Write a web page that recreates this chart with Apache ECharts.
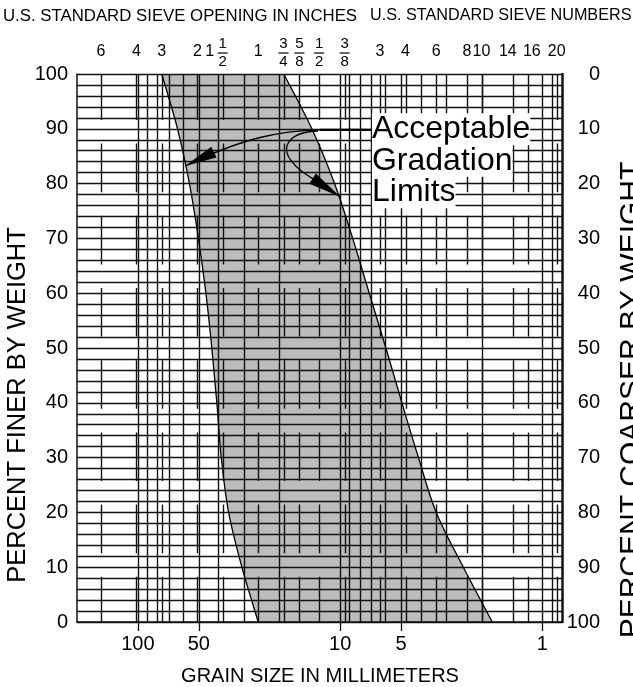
<!DOCTYPE html>
<html>
<head>
<meta charset="utf-8">
<title>Acceptable Gradation Limits</title>
<script src="https://cdn.jsdelivr.net/npm/echarts@6/dist/echarts.min.js"></script>
<style>
  html, body { margin: 0; padding: 0; background: #fff; }
  #chart { width: 633px; height: 687px; }
</style>
</head>
<body>
<div id="chart"></div>
<script>
// 级配曲线图
const FONT = '"Liberation Sans", Arial, Helvetica, sans-serif'
const INK = '#111'

// percent finer by weight, shared by both limit curves
const percentFiner = [100, 90, 80, 70, 60, 50, 40, 30, 20, 10, 0]
// coarse limit (left edge of band), grain size mm
const coarseLimitMm = [76.2, 63.7, 55.6, 50.2, 46.1, 43.1, 40.7, 38.7, 35.6, 30.6, 25.4]
// fine limit (right edge of band), grain size mm
const fineLimitMm = [19.0, 13.8, 10.66, 8.67, 7.18, 5.94, 4.95, 4.1, 3.35, 2.46, 1.77]

// full vertical grid lines, mm
const mmGrid = [100, 90, 80, 70, 60, 50, 40, 30, 20, 10, 9, 8, 7, 6, 5, 4, 3, 2, 1, 0.9]
// sieve openings in inches, as mm
const inchSieveMm = [152.4, 101.6, 76.2, 50.8, 38.1, 25.4, 19.05, 15.9, 12.7, 9.5]
const inchSieveLabels = ['6', '4', '3', '2', '1 1/2', '1', '3/4', '5/8', '1/2', '3/8']
// sieve numbers, as mm
const numSieveMm = [6.35, 4.75, 3.35, 2.36, 2.0, 1.4, 1.18, 0.85]
const numSieveLabels = ['3', '4', '6', '8', '10', '14', '16', '20']
// labelled sizes on the bottom axis, mm
const mmTicks = [100, 50, 10, 5, 1]

// small sideways nudges (px) so crowded sieve numbers don't collide
const numSieveNudge = [0, 0, 0, 0, 0, -5, 4, 0]

// annotation geometry in data units [mm, %]
const noteAnchor = [6.96, 92.8]
const arrowStem = [[6.96, 89.8], [12.57, 89.8]]
const arrowToCoarse = [[12.57, 89.8], [19.82, 89.6], [29.5, 88.5], [58.4, 83.2]]
const arrowToFine = [[12.87, 89.6], [18.7, 89.4], [19.6, 86.1], [17.3, 84.0],
                     [16.2, 82.5], [14.9, 81.8], [10.0, 77.6]]

// catmull-rom through the projected points, as svg path segments
function smoothSegs(pts) {
  let d = ''
  for (let i = 0; i < pts.length - 1; i++) {
    const p0 = pts[Math.max(i - 1, 0)], p1 = pts[i], p2 = pts[i + 1]
    const p3 = pts[Math.min(i + 2, pts.length - 1)]
    const c1 = [p1[0] + (p2[0] - p0[0]) / 6, p1[1] + (p2[1] - p0[1]) / 6]
    const c2 = [p2[0] - (p3[0] - p1[0]) / 6, p2[1] - (p3[1] - p1[1]) / 6]
    d += ' C' + c1.join(',') + ' ' + c2.join(',') + ' ' + p2.join(',')
  }
  return d
}

function limitPoints(api, sizes) {
  return sizes.map((d, i) => api.coord([d, percentFiner[i]]))
}

function arrowHead(from, tip, len, half) {
  const dx = tip[0] - from[0], dy = tip[1] - from[1]
  const l = Math.hypot(dx, dy)
  const ux = dx / l, uy = dy / l
  const bx = tip[0] - ux * len, by = tip[1] - uy * len
  return {
    type: 'polygon',
    shape: { points: [tip, [bx - uy * half, by + ux * half], [bx + uy * half, by - ux * half]] },
    style: { fill: '#000' }
  }
}

function vLines(values, dashed) {
  return {
    type: 'custom',
    silent: true,
    z: 1,
    data: values.map(v => [v, 50]),
    encode: { x: 0, y: 1 },
    renderItem: (params, api) => {
      const top = api.coord([api.value(0), 100])
      const bot = api.coord([api.value(0), 0])
      const x = Math.round(top[0]) + 0.5
      return {
        type: 'line',
        shape: { x1: x, y1: top[1], x2: x, y2: bot[1] },
        style: {
          stroke: INK,
          lineWidth: 1.4,
          lineDash: dashed ? [48.6, 23.6] : null,
          lineDashOffset: dashed ? 2.6 : 0
        }
      }
    }
  }
}

function sieveLabels(values, labels, nudge) {
  return {
    type: 'custom',
    silent: true,
    clip: false,
    data: values.map(v => [v, 100]),
    encode: { x: 0, y: 1 },
    renderItem: (params, api) => {
      const p = api.coord([api.value(0), 100])
      const x = p[0] + (nudge ? nudge[params.dataIndex] : 0), y0 = p[1]
      const lab = labels[params.dataIndex]
      const children = []
      const txt = (t, cx, cy, size) => ({
        type: 'text', x: cx, y: cy,
        style: { text: t, fontSize: size, fontFamily: FONT, fill: '#000', align: 'center', verticalAlign: 'middle' }
      })
      if (lab.indexOf('/') < 0) {
        children.push(txt(lab, x, y0 - 22, 16))
      } else {
        let frac = lab
        if (lab.indexOf(' ') > 0) {
          const parts = lab.split(' ')
          children.push(txt(parts[0], x - 13, y0 - 22, 16))
          frac = parts[1]
        }
        const nd = frac.split('/')
        children.push(txt(nd[0], x, y0 - 30, 15))
        children.push(txt(nd[1], x, y0 - 12, 15))
        children.push({ type: 'line', shape: { x1: x - 5, y1: y0 - 21, x2: x + 5, y2: y0 - 21 },
          style: { stroke: '#000', lineWidth: 1.2 } })
      }
      return { type: 'group', children }
    }
  }
}

const chart = echarts.init(document.getElementById('chart'), null, { renderer: 'canvas' })

const option = {
  backgroundColor: '#fff',
  animation: false,
  textStyle: { fontFamily: FONT },
  grid: { left: 77, right: 71, top: 74, bottom: 65, containLabel: false, outerBoundsMode: 'none' },
  graphic: [
    { type: 'text', x: 3, y: 16,
      style: { text: 'U.S. STANDARD SIEVE OPENING IN INCHES', fontSize: 16.8, fontFamily: FONT, fill: '#000', verticalAlign: 'middle' } },
    { type: 'text', x: 370, y: 16,
      style: { text: 'U.S. STANDARD SIEVE NUMBERS', fontSize: 16.2, fontFamily: FONT, fill: '#000', verticalAlign: 'middle' } },
    { type: 'text', x: 18, y: 405, rotation: Math.PI / 2,
      style: { text: 'PERCENT FINER BY WEIGHT', fontSize: 25.5, fontFamily: FONT, fill: '#000', align: 'center', verticalAlign: 'middle' } },
    { type: 'text', x: 632, y: 400, rotation: Math.PI / 2,
      style: { text: 'PERCENT COARSER BY WEIGHT', fontSize: 30, fontFamily: FONT, fill: '#000', align: 'center', verticalAlign: 'middle' } },
    { type: 'text', x: 320, y: 676,
      style: { text: 'GRAIN SIZE IN MILLIMETERS', fontSize: 20, fontFamily: FONT, fill: '#000', align: 'center', verticalAlign: 'middle' } }
  ],
  xAxis: {
    type: 'log',
    logBase: 10,
    min: 0.8,
    max: 200,
    inverse: true,
    axisLine: { lineStyle: { color: INK, width: 1.5 } },
    axisTick: { show: false },
    axisLabel: { show: false },
    splitLine: { show: false }
  },
  yAxis: [
    {
      type: 'value',
      min: 0,
      max: 100,
      interval: 10,
      position: 'left',
      axisLine: { show: true, lineStyle: { color: INK, width: 1.5 } },
      axisTick: { show: false },
      axisLabel: { color: '#000', fontSize: 20, margin: 9, fontFamily: FONT },
      splitLine: { show: true, lineStyle: { color: INK, width: 1.4 } },
      minorTick: { show: false, splitNumber: 5 },
      minorSplitLine: { show: true, lineStyle: { color: INK, width: 1.4 } }
    },
    {
      type: 'value',
      min: 0,
      max: 100,
      interval: 10,
      inverse: true,
      position: 'right',
      axisLine: { show: true, lineStyle: { color: INK, width: 2.5 } },
      axisTick: { show: false },
      axisLabel: { color: '#000', fontSize: 20, margin: 38, align: 'right', fontFamily: FONT },
      splitLine: { show: false }
    }
  ],
  series: [
    // shaded band between the two limits (under the grid)
    {
      type: 'custom',
      silent: true,
      z: -1,
      data: [[10, 50]],
      encode: { x: 0, y: 1 },
      renderItem: (params, api) => {
        const left = limitPoints(api, coarseLimitMm)
        const right = limitPoints(api, fineLimitMm).reverse()
        const d = 'M' + left[0].join(',') + smoothSegs(left) +
          ' L' + right[0].join(',') + smoothSegs(right) + ' Z'
        return { type: 'path', shape: { pathData: d }, style: { fill: '#bcbcbc' } }
      }
    },
    vLines(mmGrid, false),
    vLines(inchSieveMm.concat(numSieveMm), true),
    // the two limit curves
    {
      type: 'custom',
      silent: true,
      z: 3,
      data: [coarseLimitMm, fineLimitMm].map(() => [10, 50]),
      encode: { x: 0, y: 1 },
      renderItem: (params, api) => {
        const sizes = params.dataIndex === 0 ? coarseLimitMm : fineLimitMm
        const pts = limitPoints(api, sizes)
        return {
          type: 'path',
          shape: { pathData: 'M' + pts[0].join(',') + smoothSegs(pts) },
          style: { fill: null, stroke: '#000', lineWidth: 1.3 }
        }
      }
    },
    sieveLabels(inchSieveMm, inchSieveLabels),
    sieveLabels(numSieveMm, numSieveLabels, numSieveNudge),
    // bottom size labels with ticks below the axis
    {
      type: 'custom',
      silent: true,
      clip: false,
      data: mmTicks.map(v => [v, 0]),
      encode: { x: 0, y: 1 },
      renderItem: (params, api) => {
        const p = api.coord([api.value(0), 0])
        const x = Math.round(p[0]) + 0.5
        return {
          type: 'group',
          children: [
            { type: 'line', shape: { x1: x, y1: p[1], x2: x, y2: p[1] + 9 }, style: { stroke: INK, lineWidth: 1.3 } },
            { type: 'text', x: p[0], y: p[1] + 22,
              style: { text: String(api.value(0)), fontSize: 20, fontFamily: FONT, fill: '#000', align: 'center', verticalAlign: 'middle' } }
          ]
        }
      }
    },
    // callout
    {
      type: 'custom',
      silent: true,
      clip: false,
      z: 5,
      data: [[10, 50]],
      encode: { x: 0, y: 1 },
      renderItem: (params, api) => {
        const c = arr => arr.map(q => api.coord(q))
        const stem = c(arrowStem)
        const a1 = c(arrowToCoarse)
        const a2 = c(arrowToFine)
        const t = api.coord(noteAnchor)
        const line = { stroke: '#000', lineWidth: 1.3, fill: null }
        return {
          type: 'group',
          children: [
            { type: 'line', shape: { x1: stem[0][0], y1: stem[0][1], x2: stem[1][0], y2: stem[1][1] },
              style: { stroke: '#000', lineWidth: 2.2 } },
            { type: 'bezierCurve', shape: { x1: a1[0][0], y1: a1[0][1], cpx1: a1[1][0], cpy1: a1[1][1],
                cpx2: a1[2][0], cpy2: a1[2][1], x2: a1[3][0], y2: a1[3][1] }, style: line },
            arrowHead(a1[2], a1[3], 32, 6),
            { type: 'bezierCurve', shape: { x1: a2[0][0], y1: a2[0][1], cpx1: a2[1][0], cpy1: a2[1][1],
                cpx2: a2[2][0], cpy2: a2[2][1], x2: a2[3][0], y2: a2[3][1] }, style: line },
            { type: 'bezierCurve', shape: { x1: a2[3][0], y1: a2[3][1], cpx1: a2[4][0], cpy1: a2[4][1],
                cpx2: a2[5][0], cpy2: a2[5][1], x2: a2[6][0], y2: a2[6][1] }, style: line },
            arrowHead(a2[5], a2[6], 33, 6),
            { type: 'text', x: t[0], y: t[1],
              style: {
                text: '{a|Acceptable}\n{a|Gradation}\n{a|Limits}',
                verticalAlign: 'top',
                rich: { a: { fontSize: 32, lineHeight: 31.5, fontFamily: FONT, fill: '#000', backgroundColor: '#fff' } }
              } }
          ]
        }
      }
    }
  ]
}

chart.setOption(option)
window.addEventListener('resize', () => chart.resize())
</script>
</body>
</html>
